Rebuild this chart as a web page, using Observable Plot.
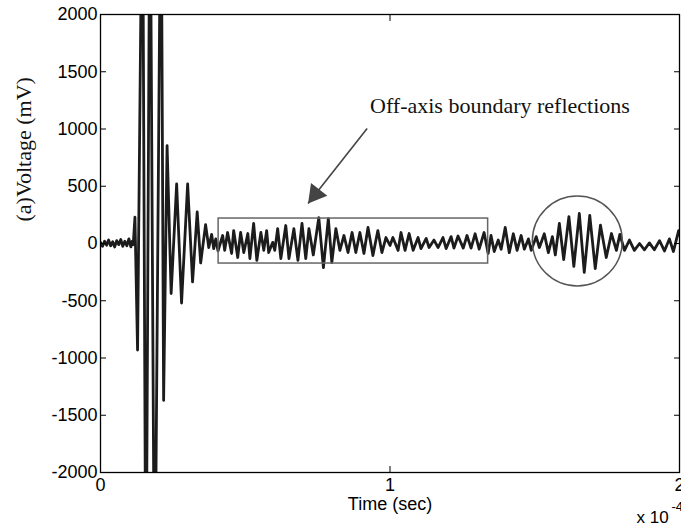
<!DOCTYPE html>
<html><head><meta charset="utf-8">
<script src="https://cdn.jsdelivr.net/npm/d3@7"></script>
<script src="https://cdn.jsdelivr.net/npm/@observablehq/plot@0.6"></script>
<style>
html,body{margin:0;padding:0;background:#fff;}
</style></head><body><div id="chart"></div>
<script>
// time in units of 1e-4 s, voltage in mV (peaks/troughs)
const timeE4 = [
  0.000,0.007,0.014,0.021,0.028,0.035,0.042,0.049,0.056,0.063,0.070,0.077,0.084,0.091,0.098,0.105,0.110,0.113,
  0.119,0.128,0.145,0.157,0.171,0.187,0.209,0.218,0.230,0.244,0.263,0.280,0.301,0.318,0.334,0.346,0.363,0.374,
  0.384,0.391,0.398,0.406,0.422,0.429,0.439,0.453,0.460,0.474,0.484,0.495,0.509,0.516,0.529,0.540,0.554,0.564,
  0.574,0.581,0.595,0.602,0.612,0.623,0.640,0.651,0.668,0.682,0.696,0.709,0.720,0.735,0.754,0.770,0.787,0.799,
  0.813,0.827,0.841,0.855,0.869,0.882,0.896,0.910,0.924,0.941,0.958,0.972,0.986,1.000,1.010,1.028,1.038,1.052,
  1.066,1.080,1.097,1.107,1.125,1.135,1.152,1.166,1.183,1.194,1.211,1.221,1.235,1.253,1.266,1.280,1.294,1.308,
  1.325,1.339,1.349,1.360,1.374,1.384,1.398,1.412,1.426,1.439,1.453,1.464,1.478,1.488,1.505,1.516,1.533,1.547,
  1.561,1.571,1.585,1.600,1.618,1.635,1.654,1.671,1.690,1.709,1.727,1.747,1.765,1.782,1.794,1.810,1.827,1.844,
  1.862,1.879,1.896,1.913,1.931,1.948,1.965,1.979,1.997,2.005
];
const voltage = [
  10,-25,20,-15,30,-20,15,-30,25,-10,35,-25,20,-20,40,-30,20,-10,
  230,-930,3500,-3500,3500,-3500,3500,-1370,855,-437,520,-520,520,-335,275,-170,165,-35,
  80,-45,40,-65,70,-60,96,-87,113,-122,96,-79,87,-131,175,-148,96,-60,
  113,-79,10,-60,130,-131,157,-131,130,-148,175,-131,130,-100,225,-210,218,-166,
  130,-60,70,-79,96,-79,96,-87,140,-105,113,-79,52,-17,52,-60,96,-60,
  87,-60,52,-44,44,-35,30,-35,52,-44,60,-40,65,-40,70,-40,85,-50,
  96,-87,70,-70,30,-50,140,-80,85,-60,70,-50,40,-60,60,-35,85,-80,
  60,-100,175,-140,235,-200,262,-253,245,-220,160,-122,87,-60,80,-60,30,-60,
  0,-55,5,-55,25,-65,40,-70,113,40
];
const yTicks = [-2000,-1500,-1000,-500,0,500,1000,1500,2000];
const xTicks = [0,1,2];
const boxTime = [0.408, 1.339];
const boxVolt = [-175, 218];
const circleCenter = [1.647, 22];
const arrowStart = [0.921, 1004];
const arrowTip = [0.717, 349];
const labelPos = [0.931, 1197];
const annotation = "Off-axis boundary reflections";

const signal = timeE4.map((t, i) => ({t, v: voltage[i]}));
const serif = "'Liberation Serif','Times New Roman',serif";
const sans = "'Liberation Sans',Arial,sans-serif";
const blank = () => "";
const plain = d => String(d);

const chart = Plot.plot({
  width: 681, height: 529,
  marginTop: 14, marginLeft: 100, marginRight: 2, marginBottom: 57,
  style: {fontFamily: sans, fontSize: "18px", background: "#fff", color: "#000"},
  x: {domain: [0, 2], label: null},
  y: {domain: [-2000, 2000], label: null},
  marks: [
    Plot.line(signal, {x: "t", y: "v", stroke: "#1c1c1c", strokeWidth: 2.8, strokeLinejoin: "round", clip: true}),
    Plot.rect([{x1: boxTime[0], x2: boxTime[1], y1: boxVolt[0], y2: boxVolt[1]}],
      {x1: "x1", x2: "x2", y1: "y1", y2: "y2", fill: "none", stroke: "#666", strokeWidth: 1.5}),
    Plot.dot([{x: circleCenter[0], y: circleCenter[1]}], {x: "x", y: "y", r: 45, fill: "none", stroke: "#555", strokeWidth: 1.5}),
    Plot.link([{x1: arrowStart[0], y1: arrowStart[1], x2: arrowTip[0], y2: arrowTip[1]}],
      {x1: "x1", y1: "y1", x2: "x2", y2: "y2", stroke: "#444", strokeWidth: 1.6}),
    Plot.dot([{x: arrowTip[0], y: arrowTip[1]}], {x: "x", y: "y", symbol: "triangle", r: 7.7, fill: "#444", stroke: "none", rotate: 218.2, dx: 7.4, dy: -9.4}),
    Plot.text([annotation], {x: labelPos[0], y: labelPos[1], text: d => d, textAnchor: "start", fontFamily: serif, fontSize: 22, fill: "#111"}),
    Plot.frame({stroke: "#000", strokeWidth: 1.3}),
    // inward ticks
    Plot.axisY(yTicks, {anchor: "left", tickSize: 6, dx: 6, tickFormat: blank, label: null}),
    Plot.axisY(yTicks, {anchor: "right", tickSize: 6, dx: -6, tickFormat: blank, label: null}),
    Plot.axisX(xTicks, {anchor: "bottom", tickSize: 6, dy: -6, tickFormat: blank, label: null}),
    Plot.axisX(xTicks, {anchor: "top", tickSize: 6, dy: 6, tickFormat: blank, label: null}),
    // tick labels
    Plot.axisY(yTicks, {anchor: "left", tickSize: 0, tickPadding: 3, label: null, tickFormat: plain, fontSize: 18}),
    Plot.axisX(xTicks, {anchor: "bottom", tickSize: 0, tickPadding: 6, label: null, tickFormat: plain, fontSize: 18}),
    // axis titles
    Plot.text(["(a)Voltage (mV)"], {frameAnchor: "left", text: d => d, dx: -77, dy: -22, rotate: -90, fontFamily: serif, fontSize: 22, fill: "#111"}),
    Plot.text(["Time (sec)"], {frameAnchor: "bottom", text: d => d, dy: 37, fontSize: 18}),
    Plot.text(["x 10"], {frameAnchor: "bottom-right", text: d => d, textAnchor: "start", dx: -43, dy: 50, fontSize: 17}),
    Plot.text(["-4"], {frameAnchor: "bottom-right", text: d => d, textAnchor: "start", dx: -8, dy: 38, fontSize: 13})
  ]
});
document.getElementById("chart").appendChild(chart);
</script></body></html>
